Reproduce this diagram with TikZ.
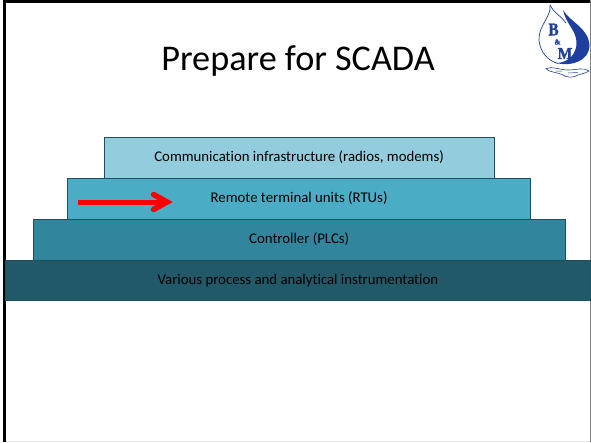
\documentclass[tikz,border=0pt]{standalone}
\usepackage{fontspec}
\usetikzlibrary{calc}
\setmainfont[Ligatures=NoCommon]{Carlito}
\newfontfamily\logofont[FakeBold=1.5]{Liberation Serif}
\definecolor{tierA}{HTML}{93CDDD}
\definecolor{tierB}{HTML}{4BACC6}
\definecolor{tierC}{HTML}{31859C}
\definecolor{tierD}{HTML}{215968}
\definecolor{tierEdge}{HTML}{1F4E5C}
\definecolor{logoblue}{HTML}{1F3F9E}
\tikzset{
  x=1pt,y=-1pt,
  tier/.style={draw=tierEdge,line width=0.8pt,minimum height=41pt,inner sep=0pt,text=black,font=\fontsize{14.8}{16}\selectfont,anchor=north west},
  logoletter/.style={text=logoblue,inner sep=0pt},
}
\begin{document}
\begin{tikzpicture}
\useasboundingbox (0,0) rectangle (591,442);
\fill[white] (0,0) rectangle (591,442);
% slide frame
\fill[black] (3,0) rectangle (5.5,442);
\fill[black] (3,0) rectangle (591,3);
\fill[black!50] (590,0) rectangle (591,442);
\fill[black!10] (5.5,441) rectangle (590,442);
% title
\node[font=\fontsize{36.2}{40}\selectfont,text=black] (title) at (298,61) {Prepare for SCADA};
% tiers
\node[tier,fill=tierA,minimum width=390pt] (comm) at (103.7,136.7) {Communication infrastructure (radios, modems)};
\node[tier,fill=tierB,minimum width=463pt] (rtu) at (67.2,177.7) {Remote terminal units (RTUs)};
\node[tier,fill=tierC,minimum width=532pt] (plc) at (32.8,218.7) {Controller (PLCs)};
\node[tier,fill=tierD,minimum width=585pt,minimum height=40.5pt] (inst) at (5,259.5) {\raisebox{-0.8pt}{Various process and analytical instrumentation}};
% arrow
\coordinate (arrowstart) at (78,202);
\coordinate (arrowtip) at (167,202);
\draw[red,line width=5pt] (arrowstart) -- ($(arrowtip)+(-3,0)$);
\draw[red,line width=5.5pt,line cap=round,line join=miter] (153.5,194.5) -- (arrowtip) -- (153.5,209.5);
% logo
\fill[logoblue] (563,10) .. controls (570,22) and (589,28) .. (589.5,46)
  .. controls (589,60) and (573,67) .. (556,63)
  .. controls (568,63) and (577,54) .. (576.5,42)
  .. controls (576,30) and (566,24) .. (563,10) -- cycle;
\draw[logoblue,line width=0.7pt] (550,5) .. controls (552,16) and (538,26) .. (539,40)
  .. controls (540,52) and (548,61) .. (558,63.5);
\draw[logoblue,line width=0.7pt] (550,5) .. controls (553,12) and (560,15) .. (566,23);
\node[logoletter,font=\logofont\bfseries\fontsize{18}{18}\selectfont,xscale=0.85] (logob) at (553.5,29.5) {B};
\node[logoletter,font=\logofont\bfseries\fontsize{7.5}{8}\selectfont] (logoand) at (557.5,42) {\&};
\node[logoletter,font=\logofont\bfseries\fontsize{16.5}{17}\selectfont,xscale=0.95] (logom) at (565,53.5) {M};
\draw[logoblue,line width=0.6pt] (546,68.5) .. controls (552,66) and (560,70) .. (568,70) .. controls (576,70) and (584,67) .. (589,71) .. controls (584,74) and (580,74) .. (578,75) .. controls (574,78) and (566,78) .. (562,74.5) .. controls (556,72) and (548,72) .. (546,68.5) -- cycle;
\draw[logoblue,line width=0.5pt] (556,71) -- (562,71) (568,73) -- (578,72.5);
\end{tikzpicture}
\end{document}
